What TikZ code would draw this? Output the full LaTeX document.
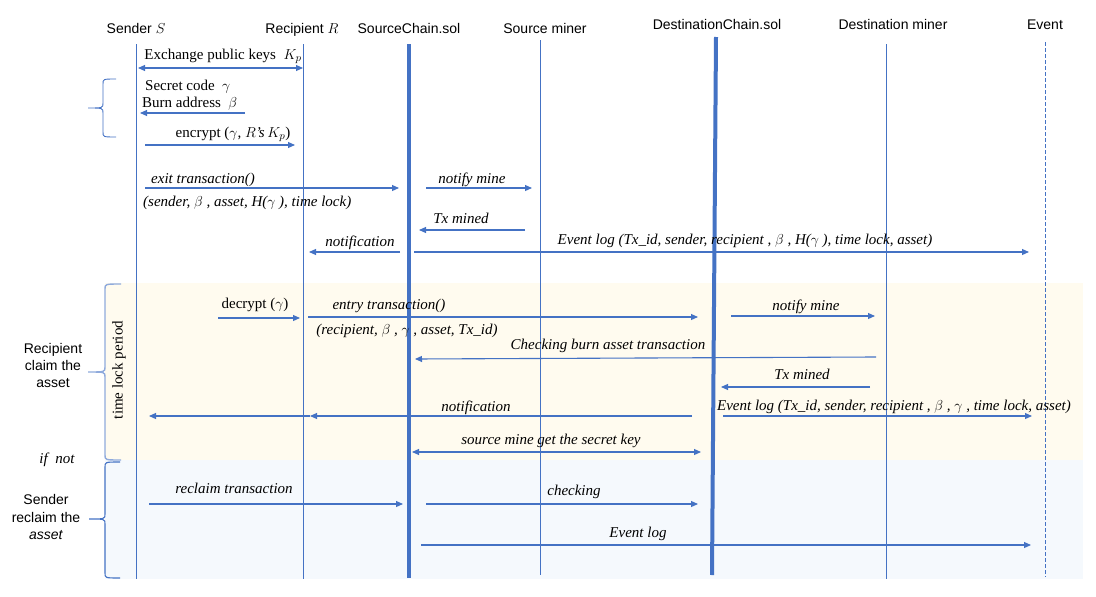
\documentclass[tikz,border=0pt]{standalone}
\usepackage{amsmath}
\usepackage{fontspec}
\setmainfont{Liberation Serif}
\setsansfont{Liberation Sans}
\usetikzlibrary{arrows.meta}
\definecolor{lineblue}{HTML}{4472C4}
\definecolor{braceblue}{HTML}{8FAADC}
\definecolor{claimbg}{HTML}{FFFBEF}
\definecolor{reclaimbg}{HTML}{F5F9FD}
% curly brace: [style] {end x}{straight x}{tip x}{top y}{tip y}{bottom y}
\newcommand{\sidebrace}[7][]{%
  \draw[#1] (#2,#5) .. controls (#3,#5) .. (#3,#5+5) -- (#3,#6-5)
    .. controls (#3,#6) .. (#4,#6) .. controls (#3,#6) .. (#3,#6+5) -- (#3,#7-5)
    .. controls (#3,#7) .. (#2,#7);}
\tikzset{
  life/.style={lineblue, line width=1pt},
  chain/.style={lineblue, line width=4pt},
  msg/.style={lineblue, line width=1.1pt, ->},
  hd/.style={font=\sffamily\fontsize{14}{16}\selectfont, inner sep=0pt},
  lbl/.style={font=\fontsize{15}{17}\selectfont, inner sep=0pt},
  ilbl/.style={font=\fontsize{15}{17}\selectfont\itshape, inner sep=0pt},
}

\begin{document}
\begin{tikzpicture}[x=1pt, y=-1pt, >={Triangle[length=7pt,width=6pt]}]
		\useasboundingbox (0,0) rectangle (1096,597);
		% phases
		\fill[claimbg] (105,283) rectangle (1083,460);
		\fill[reclaimbg] (105,460) rectangle (1083,579);
		% heads and lifelines
		\node[hd, anchor=base] (hdS) at (136,33) {Sender $S$};
		\node[hd, anchor=base] (hdR) at (302,33) {Recipient $R$};
		\node[hd, anchor=base] (hdSC) at (409,33) {SourceChain.sol};
		\node[hd, anchor=base] (hdSM) at (545,33) {Source miner};
		\node[hd, anchor=base] (hdDC) at (717,29) {DestinationChain.sol};
		\node[hd, anchor=base] (hdDM) at (893,29) {Destination miner};
		\node[hd, anchor=base] (hdEv) at (1045,30) {Event};
		\draw[life] (136,44) -- (136,579);
		\draw[life] (303,44) -- (303,579);
		\draw[chain] (409,44) -- (409,578);
		\draw[life] (540,40) -- (540,575);
		\draw[chain] (716,37) -- (712,575);
		\draw[life] (886,44) -- (886,579);
		\draw[life, line width=0.8pt, dash pattern=on 4pt off 2pt] (1045,42) -- (1045,577);
		% braces and side texts
		\sidebrace[lineblue, line width=0.9pt]{116}{103}{88}{79}{108}{137}
		\sidebrace[braceblue, line width=1.4pt]{121}{105}{88}{284}{372}{460}
		\sidebrace[lineblue, line width=1.1pt]{120}{105}{89}{462}{519}{578}
		\node[hd, align=center, font=\sffamily\fontsize{14}{17}\selectfont] (claim) at (53,365) {Recipient\\claim the\\asset};
		\node[lbl, rotate=90] (lock) at (119,370) {time lock period};
		\node[ilbl, anchor=base] (ifnot) at (57,463) {if\ \ not};
		\node[hd, align=center, font=\sffamily\fontsize{14}{17.5}\selectfont] (reclaim) at (46,517) {Sender\\reclaim the\\\textit{asset}};
		% key exchange
		\draw[msg, <->] (138,68) -- (303,68);
		\node[lbl, anchor=base] (keys) at (223,59) {Exchange public keys~~$K_p$};
		\node[lbl, anchor=base west] (secret) at (145,90) {Secret code~~$\gamma$};
		\node[lbl, anchor=base west] (burn) at (142,107) {Burn address~~$\beta$};
		\draw[msg] (245,113) -- (140,113);
		\node[lbl, anchor=base] (encrypt) at (233,137) {encrypt ($\gamma$, $R$\textit{'s}\,$K_p$)};
		\draw[msg] (145,145) -- (295,145);
		% exit on source chain
		\node[ilbl, anchor=base west] (exit) at (151,183) {exit transaction()};
		\draw[msg] (145,188) -- (399,188);
		\node[ilbl, anchor=base west] (exitargs) at (143,206) {(sender, $\beta$ , asset, H($\gamma$ ), time lock)};
		\node[ilbl, anchor=base] (notify) at (472,183) {notify mine};
		\draw[msg] (426,188) -- (532,188);
		\node[ilbl, anchor=base] (mined) at (461,223) {Tx mined};
		\draw[msg] (525,230) -- (419,230);
		\node[ilbl, anchor=base] (notif) at (360,246) {notification};
		\draw[msg] (400,252) -- (309,252);
		\node[ilbl, anchor=base] (evlog) at (745,244) {Event log (Tx\_id, sender, recipient , $\beta$ , H($\gamma$ ), time lock, asset)};
		\draw[msg] (414,252) -- (1029,252);
		% entry on destination chain
		\node[lbl, anchor=base] (decrypt) at (255,308) {decrypt ($\gamma$)};
		\draw[msg] (218,318) -- (300,318);
		\node[ilbl, anchor=base] (entry) at (389,309) {entry transaction()};
		\draw[msg] (308,317) -- (698,317);
		\node[ilbl, anchor=base] (entryargs) at (407,334) {(recipient, $\beta$ , $\gamma$ , asset, Tx\_id)};
		\node[ilbl, anchor=base] (notify2) at (806,310) {notify mine};
		\draw[msg] (731,316) -- (875,316);
		\node[ilbl, anchor=base] (check) at (608,349) {Checking burn asset transaction};
		\draw[msg] (876,357) -- (415,359);
		\node[ilbl, anchor=base] (mined2) at (802,379) {Tx mined};
		\draw[msg] (870,387) -- (721,387);
		\node[ilbl, anchor=base] (notif2) at (476,411) {notification};
		\draw[msg] (692,416) -- (310,416);
		\draw[msg] (310,416) -- (149,416);
		\node[ilbl, anchor=base] (evlog2) at (894,410) {Event log (Tx\_id, sender, recipient , $\beta$ , $\gamma$ , time lock, asset)};
		\draw[msg] (723,416) -- (1032,416);
		\node[ilbl, anchor=base] (secretkey) at (551,444) {source mine get the secret key};
		\draw[msg, <->] (412,452) -- (701,452);
		% reclaim
		\node[ilbl, anchor=base] (recl) at (234,493) {reclaim transaction};
		\draw[msg] (149,504) -- (403,504);
		\node[ilbl, anchor=base] (checking) at (574,495) {checking};
		\draw[msg] (426,504) -- (698,504);
		\node[ilbl, anchor=base] (evlog3) at (638,537) {Event log};
		\draw[msg] (421,545) -- (1031,545);
\end{tikzpicture}
\end{document}
